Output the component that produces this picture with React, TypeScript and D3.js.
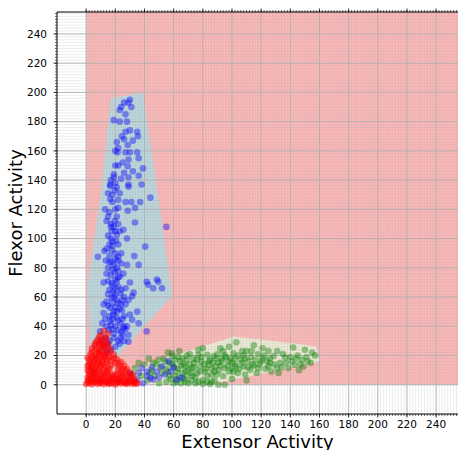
import React from 'react';
import * as d3 from 'd3';

// tick labels on both axes
const majorTicks = [0, 20, 40, 60, 80, 100, 120, 140, 160, 180, 200, 220, 240];

// hull outlines (data units: extensor, flexor)
const blueHull: [number, number][] = [
  [17, 196], [39, 200], [59, 61], [22, 20], [3, 25], [1, 68], [10.5, 135],
];
const greenHull: [number, number][] = [
  [28, 10], [101, 33], [145, 28], [158, 26], [160, 16], [89, 1], [40, 0],
];

const bluePoints: [number, number][] = [
  [30, 195], [29, 193], [26, 193], [24, 190], [23, 188], [19, 181], [23, 180], [30, 174], [27, 173],
  [24.5, 170], [35, 173], [35.5, 170], [32, 167], [21, 166], [28.5, 164], [20, 160], [21.5, 159],
  [27, 159], [30, 159], [35, 159], [36, 155], [29, 154], [20, 150], [28.5, 149.5], [39, 148], [32, 146],
  [36, 143], [19, 142], [19, 144], [29, 142], [38, 137], [16.5, 137], [29, 137], [16.5, 136], [29, 135.5],
  [19.5, 133], [16.5, 127], [22, 126.5], [27, 125], [31, 125], [37, 125], [44, 128], [33.5, 121],
  [28.5, 119], [22, 121], [13, 120], [15, 115], [14, 112], [19.5, 112], [17, 110], [33.5, 111], [55, 108],
  [25.5, 106], [17.5, 105], [21, 102.5], [17, 100], [20.5, 98.5], [40.5, 94.5], [12.5, 91.5], [17.5, 92],
  [8, 87.5], [13.5, 85], [17.5, 84], [22, 87.5], [24, 83], [28, 82], [36, 82], [14, 76], [19.5, 77],
  [25.5, 76], [41.5, 70.5], [48.5, 72], [21, 70.5], [22, 73.5], [17.5, 69.5], [22, 67], [18.5, 64],
  [23.5, 62.5], [32.5, 63], [42.5, 68.5], [46, 66], [49.5, 70.5], [52, 66], [31.5, 60.5], [17.5, 59.5],
  [14, 57], [22, 56], [16.5, 52.5], [24.5, 51], [35, 50], [12, 49], [18.5, 48], [31.5, 44.5], [11, 42],
  [16.5, 43.5], [23.5, 42], [36, 42], [41.5, 36.5], [9.5, 36.5], [15.5, 37.5], [22, 37.5], [29, 34],
  [23.5, 32], [29, 29.5], [13, 32], [15, 28], [25.5, 38.5],
  [18, 95], [20, 90], [16, 88], [21, 80], [18, 79], [23, 74], [20, 66], [19, 60], [21, 58], [24, 55],
  [20, 53], [18, 45], [21, 46], [25, 45], [20, 40], [26, 40], [19, 35], [24, 36], [27, 38], [21, 50],
  [15, 62], [26, 60], [22, 85], [19, 108], [21, 115], [18, 125], [23, 131], [20, 138], [24, 141],
  [22, 150], [26, 145], [33, 88], [30, 70], [27, 66], [12, 70], [16, 96], [23, 105], [28, 100],
  [14, 22], [17, 24], [20, 26], [23, 28], [26, 30], [12, 26], [16, 30], [19, 32], [22, 30], [25, 34],
  [18, 38], [14, 40], [17, 41], [22, 44], [26, 47], [13, 45], [16, 47], [19, 50], [23, 52], [15, 54],
  [18, 56], [25, 58], [20, 62], [16, 65], [24, 65], [18, 68], [15, 71], [20, 72], [17, 75], [22, 78],
  [15, 80], [19, 82], [16, 84], [20, 86], [24, 90], [14, 93], [18, 98], [22, 96], [15, 102], [20, 105],
  [17, 108], [22, 110], [16, 118], [20, 120], [18, 130], [15, 131], [21, 135], [17, 140], [25, 152],
  [22, 162], [26, 168], [28, 180], [27, 185], [31, 190], [10, 30], [28, 40], [30, 48], [27, 55], [29, 58],
  [12, 55],
  [38, 11.5], [41.5, 9], [48.5, 9], [52, 12.5], [54, 7], [44, 4.5], [35, 3.5], [39, 1], [65.5, 5],
  [56.5, 16], [30, 8], [46, 3.5], [62, 3.5], [45, 12], [50, 5], [58, 9], [60, 12], [42, 6], [36, 8],
];

const greenPoints: [number, number][] = [
  [49.5, 17], [53, 18], [59, 19.5], [64.5, 16], [69, 17], [73.5, 18], [77, 20.5], [83, 20.5], [87.5, 19.5],
  [68, 12.5], [72.5, 11.5], [78, 12.5], [84, 13.5], [88.5, 12.5], [76, 8], [81.5, 9], [86, 7], [62, 9],
  [60, 12.5], [33.5, 11.5], [31.5, 7], [77, 24], [58.8, 21.6],
  [103, 29], [94, 23], [101, 21.5], [107, 23], [110, 23], [113.5, 23], [118, 21], [125, 23], [131, 23],
  [128.5, 19.5], [126, 18], [124, 16], [136.5, 18.7], [142, 25.5], [148, 17], [155, 22], [149, 12.5],
  [143, 13.7], [138.7, 11.4], [131, 11.4], [125, 12.5], [118, 11.4], [116, 17], [111, 16], [108, 12.5],
  [112.5, 10.3], [102, 18], [97.6, 16], [93, 18], [90.7, 15], [95, 11.4], [101, 9], [103, 12.5], [109, 7],
  [90.7, 0], [95, 0], [89.6, 7],
  [45, 10], [48, 14], [52, 8], [55, 11], [57, 15], [61, 6], [63, 19], [66, 8], [67, 14], [70, 10], [71, 21],
  [74, 15], [75, 5], [79, 16], [80, 3], [82, 11], [85, 17], [86, 2], [88, 9], [90, 21], [92, 13], [94, 6],
  [96, 19], [98, 9], [100, 15], [104, 8], [106, 17], [108, 20], [114, 14], [117, 8], [120, 16], [122, 20],
  [127, 9], [133, 15], [135, 21], [140, 19], [145, 20], [150, 24], [152, 16], [157, 20], [40, 14], [42, 3],
  [38, 6], [55, 2], [60, 1], [65, 1], [70, 1], [75, 1], [80, 0.5], [85, 0.5], [50, 1], [67, 4], [73, 6],
  [58, 4], [47, 6], [36, 15], [43, 18], [64, 23], [80, 25], [98, 26], [115, 27], [121, 25], [132, 8],
  [146, 10], [56, 22], [92, 25], [100, 4], [110, 3],
  [44, 8], [46, 15], [51, 12], [54, 16], [56, 9], [59, 14], [61, 17], [63, 11], [65, 13], [66, 18], [68, 9],
  [69, 20], [71, 14], [72, 8], [74, 12], [76, 17], [78, 9], [79, 19], [81, 14], [83, 6], [84, 16], [86, 11],
  [87, 15], [89, 18], [91, 10], [93, 16], [95, 20], [97, 13], [99, 18], [100, 11], [102, 14], [104, 20],
  [105, 11], [107, 15], [109, 18], [111, 12], [113, 19], [115, 13], [119, 14], [121, 18], [123, 11],
  [126, 15], [129, 14], [134, 12], [137, 15], [141, 16], [144, 18], [147, 14], [151, 19], [154, 15],
  [62, 2], [68, 2], [72, 3], [77, 2], [83, 2], [88, 3], [57, 6], [64, 5], [69, 6],
];

const redPoints: [number, number][] = [
  [0, 0.5], [2, 1], [4, 0.3], [6, 1.5], [8, 0.6], [10, 1.2], [12, 0.4], [14, 1.8], [16, 0.7], [18, 1.1],
  [20, 0.2], [22, 1.6], [24, 0.8], [26, 1.3], [28, 0.5], [30, 1.4], [32, 0.6], [34, 1],
  [1, 5], [4, 4.5], [7, 5.8], [10, 4.2], [13, 5.5], [16, 4.8], [19, 5.2], [22, 4.4], [25, 5.6], [28, 4.6],
  [31, 5.3], [33, 4.1], [1.5, 3], [9, 3], [15, 2.8], [21, 3.3], [27, 2.9], [33, 2.6],
  [2, 9], [5, 8.5], [8, 9.6], [11, 8.7], [14, 9.3], [24, 8.9], [27, 9.5], [30, 8.4], [3, 7], [12, 6.8],
  [1, 13], [4, 12.5], [7, 13.6], [10, 12.8], [13, 13.4], [23, 12.7], [26, 13.1], [6, 11], [16, 11.2],
  [2, 17], [5, 16.4], [8, 17.6], [11, 16.8], [14, 17.2], [17, 16.6], [21, 17.4], [9, 15], [3, 15],
  [3, 21], [6, 20.4], [9, 21.5], [12, 20.7], [15, 21.2], [19, 20.6], [7, 19], [13, 19],
  [4, 25], [7, 24.5], [10, 25.6], [13, 24.8], [16, 25.3], [9, 23], [12, 27],
  [6, 28], [9, 28.6], [12, 27.8], [15, 28.4], [8, 31], [11, 30.5], [14, 31.2], [10, 34], [15, 35], [12, 37],
  [5, 3.5], [11, 2.5], [17, 3.5], [23, 2.2], [29, 3.1], [6, 6.5], [18, 7], [20, 14.5], [4, 10.5],
  [1, 2], [3, 3.5], [5, 2], [7, 3], [9, 1.5], [11, 4], [13, 2.5], [15, 0.9], [17, 2], [19, 3.8], [21, 1.5],
  [23, 3.6], [25, 2.4], [27, 1], [29, 2.2], [31, 3], [33, 1.8], [35, 0.8],
  [2, 6.5], [5, 7.5], [8, 6], [10, 7.2], [14, 7.5], [16, 6.2], [20, 6.8], [22, 7.6], [24, 6.4], [26, 7],
  [29, 6.6], [32, 7.2], [1, 10], [3, 11.5], [6, 9.8], [9, 10.6], [12, 11.3], [15, 10], [22, 10.5], [25, 11],
  [28, 10.8], [2, 14], [5, 14.5], [8, 14.2], [11, 14.8], [14, 15], [17, 13.5], [22, 14.8], [24, 15.5],
  [1, 18.5], [4, 19], [6, 17.8], [10, 18.8], [12, 19.4], [16, 19], [19, 18.2],
  [4, 22.5], [8, 22.3], [11, 23], [14, 22.6], [17, 23.1], [6, 26.5], [9, 26.8], [14, 26.5], [7, 29.5],
  [11, 29], [13, 32.5], [9, 33],
];

const W = 458;
const H = 450;
const FONT = 'DejaVu Sans, sans-serif';

export default function App() {
  const x = d3.scaleLinear().domain([-20, 255]).range([57, 458]);
  const y = d3.scaleLinear().domain([-20, 255]).range([414, 12]);
  const [x0, x1] = x.range();
  const [yb, yt] = y.range();

  const hullPath = (pts: [number, number][]) =>
    d3.line<[number, number]>().x(d => x(d[0])).y(d => y(d[1]))(pts) + 'Z';

  const minor = d3.range(0, 255, 2);

  return (
    <svg width={W} height={H} style={{ position: 'absolute', left: 0, top: 0 }}>
      <defs>
        <clipPath id="plot-clip">
          <rect x={x0} y={yt} width={x1 - x0} height={yb - yt} />
        </clipPath>
      </defs>
      <rect x={0} y={0} width={W} height={H} fill="white" />

      <g clipPath="url(#plot-clip)">
        {/* class regions */}
        <rect x={x(0)} y={y(255)} width={x(255) - x(0)} height={y(0) - y(255)} fill="rgb(255,0,0)" fillOpacity={0.28} />
        <path d={hullPath(blueHull)} fill="#bcd7df" />
        <path d={hullPath(greenHull)} fill="#f0edd6" />

        {/* minor grid */}
        {minor.map(v => (
          <line key={'mx' + v} x1={x(v)} x2={x(v)} y1={yt} y2={yb} stroke="#aaa" strokeOpacity={0.45} strokeWidth={0.5} />
        ))}
        {minor.map(v => (
          <line key={'my' + v} y1={y(v)} y2={y(v)} x1={x0} x2={x1} stroke="#aaa" strokeOpacity={0.45} strokeWidth={0.5} />
        ))}
        {/* major grid */}
        {majorTicks.map(v => (
          <line key={'gx' + v} x1={x(v)} x2={x(v)} y1={yt} y2={yb} stroke="#b0b0b0" strokeWidth={0.9} />
        ))}
        {majorTicks.map(v => (
          <line key={'gy' + v} y1={y(v)} y2={y(v)} x1={x0} x2={x1} stroke="#b0b0b0" strokeWidth={0.9} />
        ))}

        {/* samples */}
        {greenPoints.map((d, i) => (
          <circle key={'g' + i} cx={x(d[0])} cy={y(d[1])} r={3.3} fill="green" fillOpacity={0.4} />
        ))}
        {bluePoints.map((d, i) => (
          <circle key={'b' + i} cx={x(d[0])} cy={y(d[1])} r={3.3} fill="blue" fillOpacity={0.4} />
        ))}
        {redPoints.map((d, i) => (
          <circle key={'r' + i} cx={x(d[0])} cy={y(d[1])} r={3.3} fill="red" fillOpacity={0.5} />
        ))}
      </g>

      {/* spines */}
      <line x1={x0} x2={x0} y1={yt} y2={yb} stroke="black" strokeWidth={1} />
      <line x1={x0} x2={x1} y1={yb} y2={yb} stroke="black" strokeWidth={1} />
      <line x1={x0} x2={x1} y1={yt} y2={yt} stroke="black" strokeWidth={1} />

      {/* minor ticks */}
      {minor.map(v => (
        <g key={'mt' + v}>
          <line x1={x(v)} x2={x(v)} y1={yb} y2={yb + 2} stroke="black" strokeWidth={0.6} />
          <line x1={x(v)} x2={x(v)} y1={yt} y2={yt - 2} stroke="black" strokeWidth={0.6} />
          <line x1={x0} x2={x0 - 2} y1={y(v)} y2={y(v)} stroke="black" strokeWidth={0.6} />
        </g>
      ))}
      {/* major ticks and labels */}
      {majorTicks.map(v => (
        <g key={'t' + v}>
          <line x1={x(v)} x2={x(v)} y1={yb} y2={yb + 3.5} stroke="black" strokeWidth={0.8} />
          <line x1={x(v)} x2={x(v)} y1={yt} y2={yt - 3.5} stroke="black" strokeWidth={0.8} />
          <line x1={x0} x2={x0 - 3.5} y1={y(v)} y2={y(v)} stroke="black" strokeWidth={0.8} />
          <text x={x(v)} y={428} textAnchor="middle" fontFamily={FONT} fontSize={10.5} fill="black">{v}</text>
          <text x={47} y={y(v) + 3.8} textAnchor="end" fontFamily={FONT} fontSize={10.5} fill="black">{v}</text>
        </g>
      ))}

      <text x={(x0 + x1) / 2} y={448} textAnchor="middle" fontFamily={FONT} fontSize={18} fill="black">Extensor Activity</text>
      <text transform={`translate(22,${(yt + yb) / 2}) rotate(-90)`} textAnchor="middle" fontFamily={FONT} fontSize={18} fill="black">Flexor Activity</text>
    </svg>
  );
}
